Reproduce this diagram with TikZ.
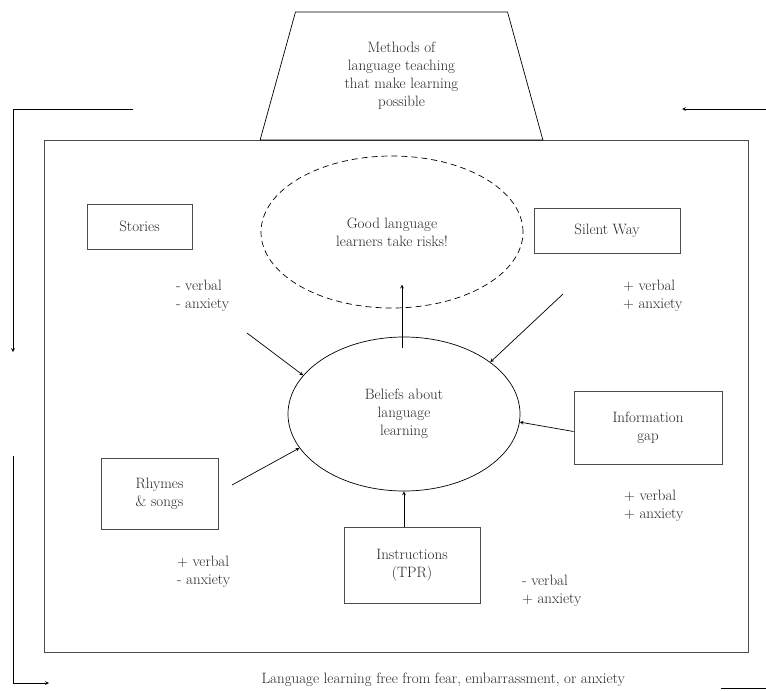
\documentclass[tikz,border=0pt]{standalone}
\usetikzlibrary{shapes,arrows,positioning}

\begin{document}
\begin{tikzpicture}[x=1pt, y=-1pt, font=\fontsize{15}{18}\selectfont, text=black!85]
  \tikzstyle{box} = [rectangle, draw=black!70, line width=1pt, align=center, inner sep=0pt]
  \tikzstyle{line} = [draw, line width=0.7pt, -stealth]
  \tikzstyle{note} = [anchor=west, align=left, inner sep=0pt]
  \tikzstyle{bubble} = [ellipse, draw, line width=0.7pt, align=center, inner sep=0pt]
  \useasboundingbox (0,0) rectangle (766,691);
  % Place nodes
  \node [box, minimum width=704, minimum height=512] (frame) at (396,396) {};
  \node [trapezium, draw, line width=0.7pt, trapezium left angle=74.3, trapezium right angle=74.3,
    trapezium stretches=true, minimum width=283, minimum height=128, align=center,
    inner sep=0pt, outer sep=0pt] (methods) at (401.5,76)
    {Methods of\\language teaching\\that make learning\\possible};
  \node [bubble, dashed, dash pattern=on 6pt off 4pt, minimum width=262, minimum height=152] (goal) at (392,232)
    {Good language\\learners take risks!};
  \node [bubble, minimum width=232, minimum height=154] (beliefs) at (404,414)
    {Beliefs about\\language\\learning};
  \node [box, minimum width=105, minimum height=45] (stories) at (139.5,226.5) {Stories};
  \node [box, minimum width=146, minimum height=45] (silent) at (607,230.5) {Silent Way};
  \node [box, minimum width=148, minimum height=73] (info) at (648,427.5) {Information\\gap};
  \node [box, minimum width=117, minimum height=71] (rhymes) at (159.5,493.5) {Rhymes\\\& songs};
  \node [box, minimum width=136, minimum height=76] (instr) at (412,565) {Instructions\\(TPR)};

  \node [note] (stories-note) at (176,296) {- verbal\\- anxiety};
  \node [note] (silent-note) at (623,296) {+ verbal\\+ anxiety};
  \node [note] (info-note) at (624,506) {+ verbal\\+ anxiety};
  \node [note] (rhymes-note) at (177,572) {+ verbal\\- anxiety};
  \node [note] (instr-note) at (522,591) {- verbal\\+ anxiety};
  \node [anchor=east, inner sep=0pt] (free) at (625,680)
    {Language learning free from fear, embarrassment, or anxiety};

  % connectors
  \coordinate (stories-tail) at (247,333);
  \coordinate (silent-tail) at (563,294);
  \coordinate (rhymes-tail) at (232,485);
  \path [line] (stories-tail) -- (beliefs.159);
  \path [line] (silent-tail) -- (beliefs.31);
  \path [line] ([yshift=-4pt]info.west) -- (beliefs.-4);
  \path [line] (rhymes-tail) -- (beliefs.198);
  \path [line] (instr.north -| beliefs.south) -- (beliefs.south);
  \path [line] ([xshift=-2pt,yshift=-11pt]beliefs.north) -- ++(0,-63);

  % loop round the frame
  \coordinate (top-left) at (133,109);
  \coordinate (left-tip) at (13,352);
  \coordinate (top-right) at (766,109);
  \coordinate (right-tip) at (682,109);
  \coordinate (low-left) at (13,456);
  \coordinate (low-tip) at (49,683);
  \coordinate (low-right) at (721,688);
  \coordinate (low-end) at (766,688);
  \path [line] (top-left) -| (left-tip);
  \path [line] (top-right) -- (right-tip);
  \path [line] (low-left) |- (low-tip);
  \path [draw, line width=0.7pt] (low-right) -- (low-end);
\end{tikzpicture}
\end{document}
